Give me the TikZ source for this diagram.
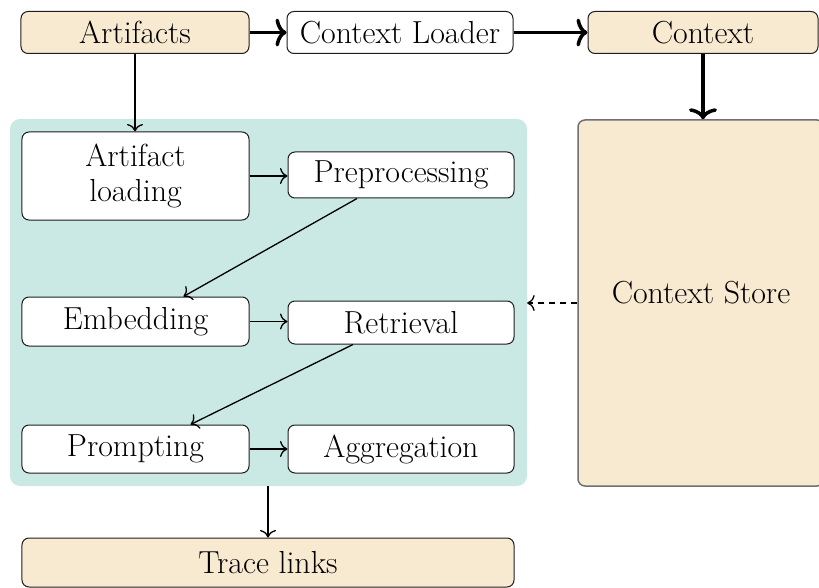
\documentclass[tikz,border=0pt]{standalone}
\usetikzlibrary{arrows.meta,calc}
\definecolor{sand}{RGB}{248,233,209}
\definecolor{mint}{RGB}{203,233,228}
\definecolor{edge}{RGB}{30,30,30}
\definecolor{storeedge}{RGB}{112,112,112}

\begin{document}
\begin{tikzpicture}[x=1bp,y=-1bp,
  box/.style={draw=edge, line width=1bp, rounded corners=7bp, fill=white,
    inner sep=0pt, align=center, font=\fontsize{32}{36}\selectfont},
  srcbox/.style={box, fill=sand},
  flow/.style={line width=1.3bp, -{Computer Modern Rightarrow[width=16bp,length=7.5bp]}},
  bigflow/.style={line width=3.5bp, -{Computer Modern Rightarrow[width=28bp,length=11bp]}},
]
\useasboundingbox (0,0) rectangle (819,588);
\clip (0,0) rectangle (819,588);

% pipeline stage frame
\node[fill=mint, rounded corners=10bp, minimum width=517bp, minimum height=367bp,
  inner sep=0pt] (pipe) at (268.5,302.5) {};

% top row
\node[srcbox, minimum width=228bp, minimum height=42bp] (art) at (135,32.5) {Artifacts};
\node[box, minimum width=226bp, minimum height=42bp] (loader) at (400,32.5) {Context Loader};
\node[srcbox, minimum width=230bp, minimum height=42bp] (ctx) at (703,32.5) {Context};

% context store
\node[srcbox, draw=storeedge, line width=1.5bp, minimum width=246bp, minimum height=366bp,
  text depth=22bp] (store) at (701,303) {Context Store};

% pipeline stages
\node[box, minimum width=227bp, minimum height=88bp] (load) at (135.5,176) {Artifact\\loading};
\node[box, minimum width=226bp, minimum height=46bp] (pre) at (401,175) {Preprocessing};
\node[box, minimum width=227bp, minimum height=49bp] (emb) at (135.5,321.5) {Embedding};
\node[box, minimum width=226bp, minimum height=43bp] (ret) at (401,322.5) {Retrieval};
\node[box, minimum width=227bp, minimum height=48bp] (prm) at (135.5,449) {Prompting};
\node[box, minimum width=226bp, minimum height=48bp] (agg) at (401,449) {Aggregation};

% output
\node[srcbox, minimum width=492bp, minimum height=49bp] (trace) at (268,562.5) {Trace links};

% connectors
\draw[bigflow] (art) -- (loader);
\draw[bigflow] (loader) -- (ctx);
\draw[bigflow] (ctx.south) -- (ctx.south |- store.north);
\draw[flow] (art.south) -- (art.south |- load.north);
\draw[flow] (load.east) -- (load.east -| pre.west);
\draw[flow] ($(pre.south)+(-44,0)$) -- ($(emb.north)+(48,0)$);
\draw[flow] (emb.east) -- (emb.east -| ret.west);
\draw[flow] ($(ret.south)+(-48,0)$) -- ($(prm.north)+(55,0)$);
\draw[flow] (prm) -- (agg);
\draw[flow] (pipe.south -| trace.north) -- (trace.north);
\draw[flow, dash pattern=on 6bp off 5bp] (store.west) -- (store.west -| pipe.east);
\end{tikzpicture}
\end{document}
